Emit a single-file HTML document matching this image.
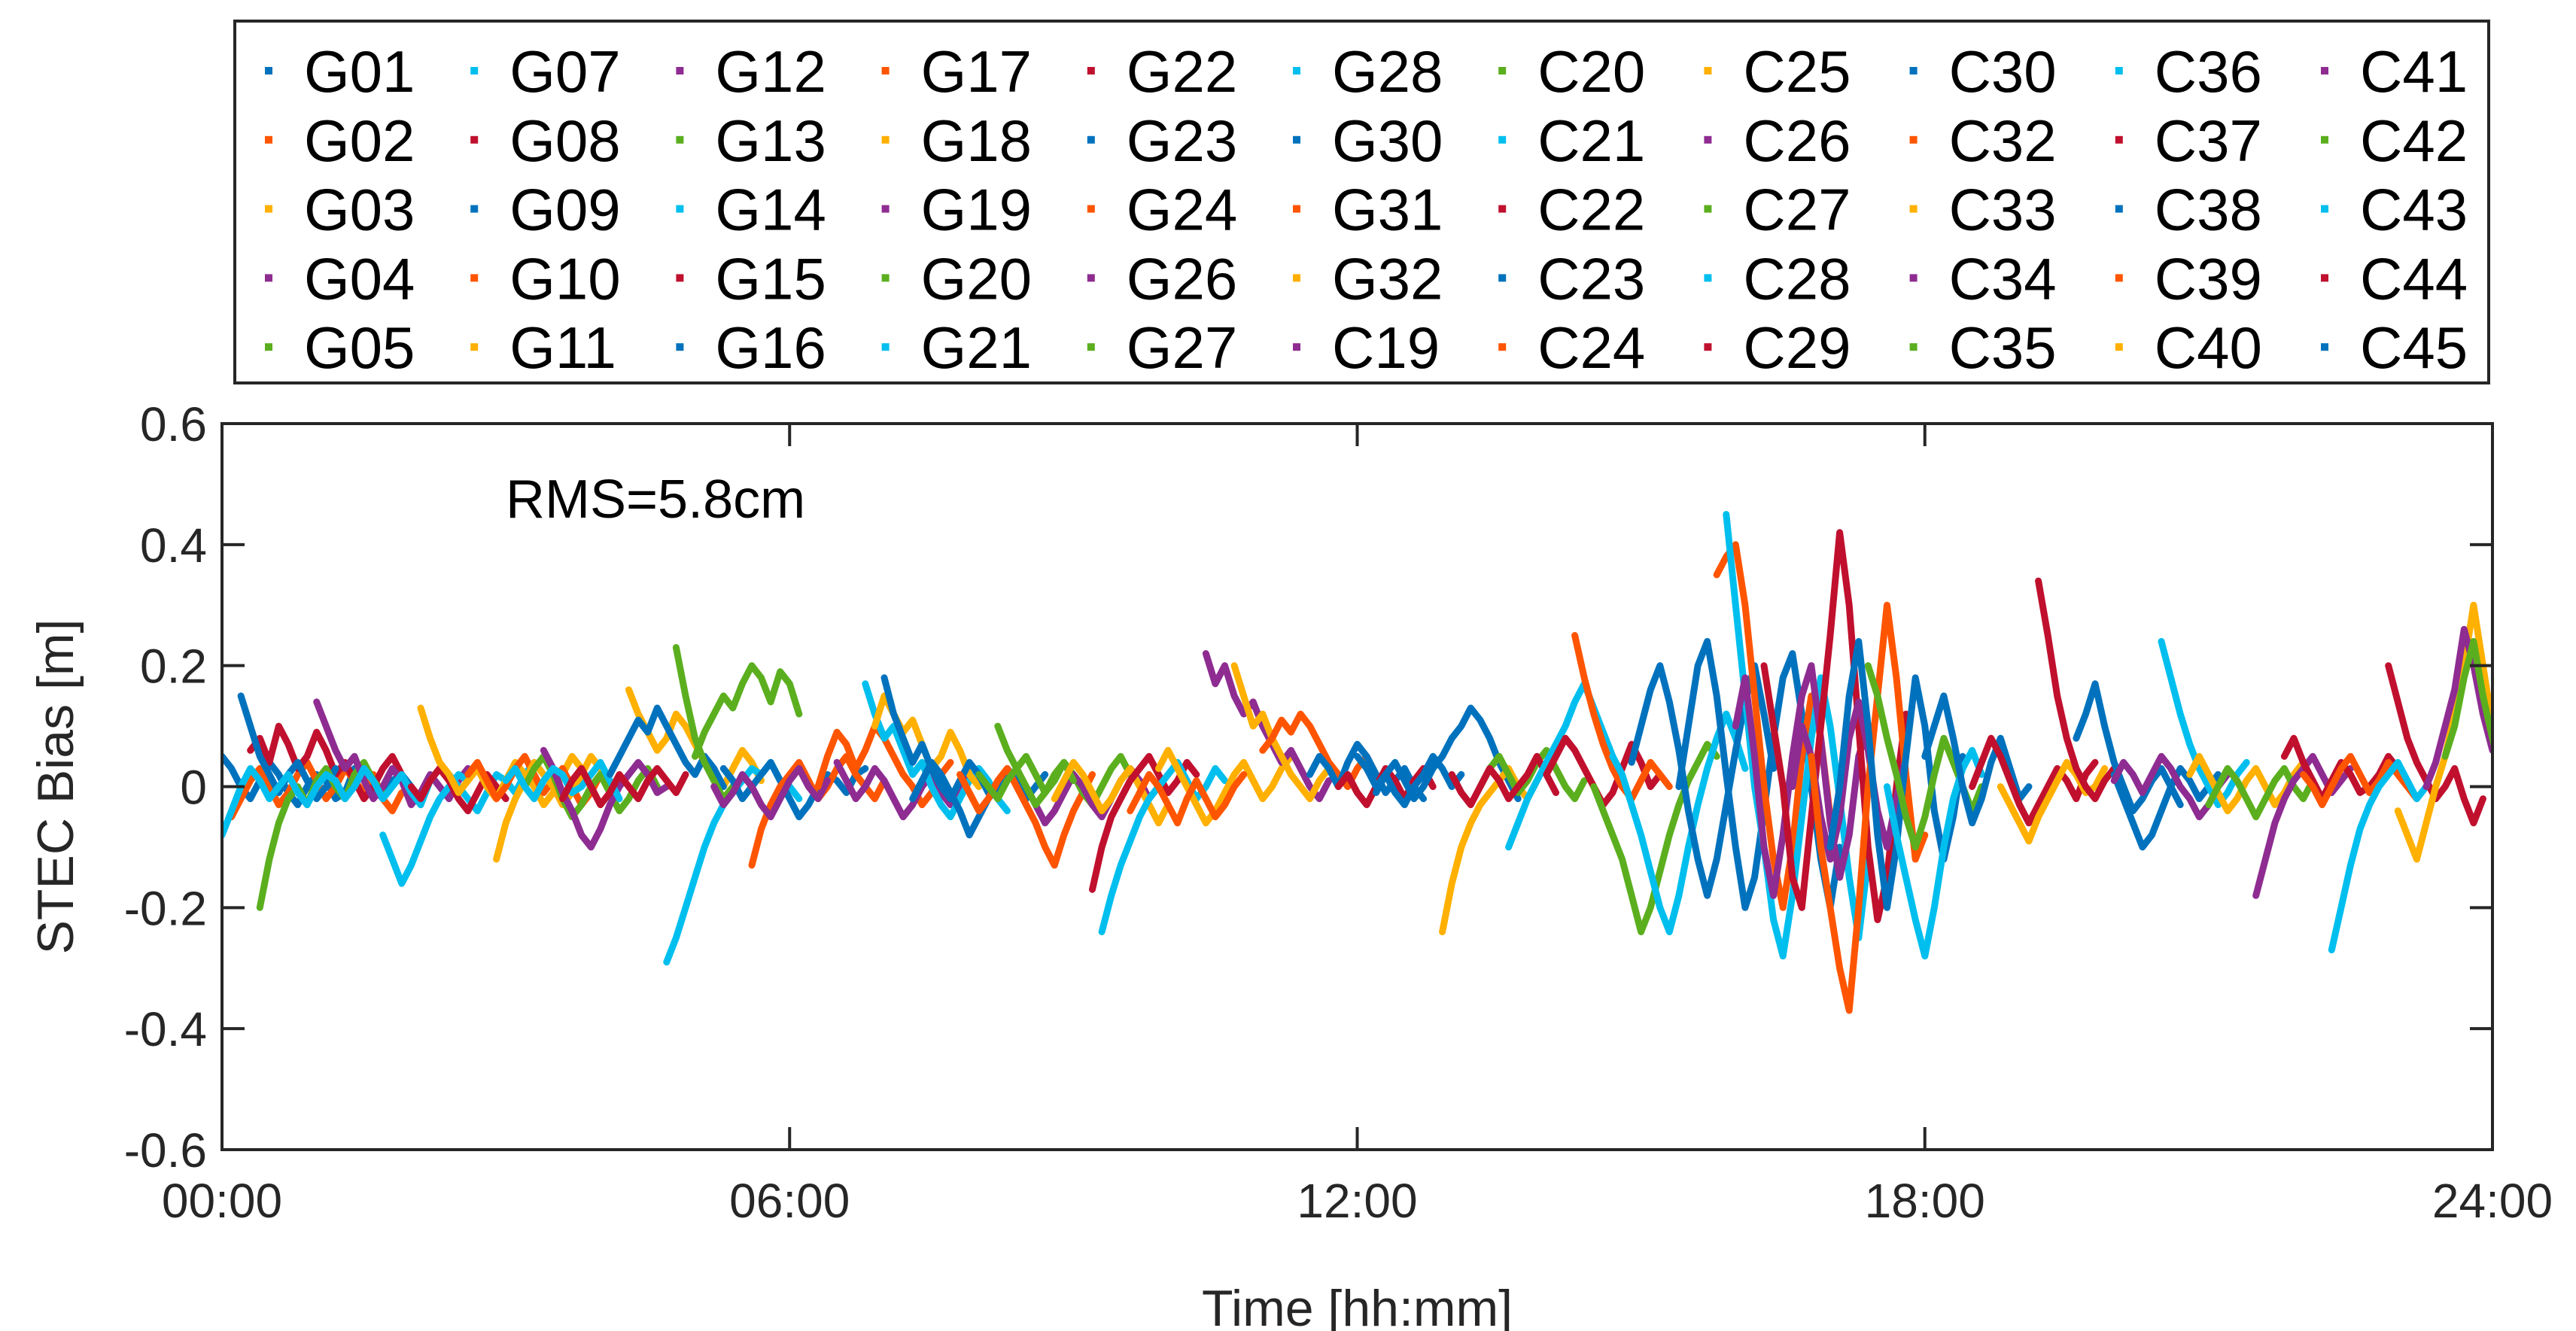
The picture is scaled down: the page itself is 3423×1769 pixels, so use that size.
<!DOCTYPE html>
<html><head><meta charset="utf-8">
<style>
html,body{margin:0;padding:0;background:#fff;}
svg{display:block;}
text{font-family:"Liberation Sans",Arial,sans-serif;}
</style></head>
<body>
<svg id="chart" width="3423" height="1769" viewBox="0 0 3423 1769" xmlns="http://www.w3.org/2000/svg">
  <rect x="0" y="0" width="3423" height="1769" fill="#fff"/>
  <g id="plot"></g>
  <g id="axes"></g>
  <text x="672" y="688" font-size="72" fill="#000">RMS=5.8cm</text>
  <g id="legend"></g>
</svg>
<script>
const legendNames = ["G01","G02","G03","G04","G05","G07","G08","G09","G10","G11","G12","G13","G14","G15","G16","G17","G18","G19","G20","G21","G22","G23","G24","G26","G27","G28","G30","G31","G32","C19","C20","C21","C22","C23","C24","C25","C26","C27","C28","C29","C30","C32","C33","C34","C35","C36","C37","C38","C39","C40","C41","C42","C43","C44","C45"];
const legendColorIdx = [0,1,2,3,4, 5,6,0,1,2, 3,4,5,6,0, 1,2,3,4,5, 6,0,1,3,4, 5,0,1,2,3, 4,5,6,0,1, 2,3,4,5,6, 0,1,2,3,4, 5,6,0,1,2, 3,4,5,6,0];
const xTicks = [0,6,12,18,24];
const xTickLabels = ["00:00","06:00","12:00","18:00","24:00"];
const yTicks = [-0.6,-0.4,-0.2,0,0.2,0.4,0.6];
const yTickLabels = ["-0.6","-0.4","-0.2","0","0.2","0.4","0.6"];
const stepHours = 0.1;
const segments = [
["G01",0.0,[0.05,0.03,0.00,-0.02,0.01,0.04,0.02,-0.01,-0.03,0.00,0.02,0.01,-0.02,-0.01,0.03,0.02,0.00,-0.02,0.01,0.02,0.0,-0.03]],
["G02",0.1,[-0.05,-0.02,0.01,0.03,0.00,-0.03,-0.01,0.02,0.04,0.01,-0.02,0.00,0.03,0.01,-0.01,0.02,-0.02,-0.04,-0.01]],
["G08",0.3,[0.06,0.08,0.04,0.10,0.07,0.03,0.05,0.09,0.06,0.02,0.04,0.01,-0.02,0.00,0.03,0.05,0.02]],
["G09",0.2,[0.15,0.1,0.05,0.02,-0.01,0.02,0.04,0.01,-0.02,0.0,0.03]],
["G05",0.4,[-0.20,-0.12,-0.06,-0.02,0.00,-0.03,0.01,0.03,0.00,-0.02,0.02,0.04,0.01,-0.01]],
["G04",1.0,[0.14,0.10,0.06,0.03,0.05,0.01,-0.02,0.00,0.03,0.01,-0.03,-0.01,0.02,0.00,-0.02,0.01,0.03]],
["G07",0.0,[-0.08,-0.04,0.0,0.03,0.01,-0.02,0.0,0.02,-0.01,-0.03,0.0,0.02,0.01,-0.02,0.0,0.03,0.01]],
["G07",1.5,[0.03,0.01,-0.02,0.00,0.02,-0.01,-0.03,0.01,0.03,0.02,0.00,-0.02,-0.04,-0.01,0.02,0.01,-0.01,0.02,0.04,0.02]],
["G14",1.7,[-0.08,-0.12,-0.16,-0.13,-0.09,-0.05,-0.02,0.00,0.02,0.01]],
["G22",2.0,[0.0,-0.02,0.01,0.03,0.01,-0.02,-0.04,-0.01,0.02,0.0,-0.02]],
["G03",2.1,[0.13,0.08,0.04,0.02,-0.01,0.01,0.03,0.00,-0.02,0.01,0.04,0.02,0.00,-0.03,-0.01,0.02,0.05,0.03]],
["G10",2.6,[0.02,0.04,0.01,-0.02,0.00,0.03,0.05,0.02,-0.01,0.01,0.03,0.00,-0.03,-0.01,0.02]],
["G11",2.9,[-0.12,-0.06,-0.02,0.01,0.04,0.02,0.00,-0.03,-0.01,0.02,0.05,0.03,0.00]],
["G13",3.2,[0.00,0.03,0.05,0.02,-0.02,-0.05,-0.03,0.00,0.02,-0.01,-0.04,-0.02,0.01,0.03,0.00]],
["G19",3.4,[0.06,0.03,-0.01,-0.04,-0.08,-0.10,-0.07,-0.03,0.00,0.02,0.04,0.02,-0.01,0.00]],
["G21",3.0,[0.01,0.03,0.0,-0.02,0.01,0.03,0.02,-0.01,0.0,0.02,0.04,0.01,-0.02]],
["G15",3.6,[-0.02,0.01,0.03,0.0,-0.03,-0.01,0.02,0.0,-0.02,0.01,0.03,0.01,-0.01,0.02]],
["G18",4.3,[0.16,0.12,0.09,0.06,0.08,0.12,0.1,0.07,0.04,0.02,0.0,0.03,0.06,0.04,0.01]],
["G09",4.1,[0.02,0.05,0.08,0.11,0.09,0.13,0.10,0.07,0.04,0.02,0.05,0.03,0.00]],
["G21",4.7,[-0.29,-0.25,-0.2,-0.15,-0.1,-0.06,-0.03,-0.01,0.01,0.03,0.02,0.04,0.01,0.00,-0.02]],
["G05",4.8,[0.23,0.15,0.08,0.04,0.01,-0.02,0.0]],
["G20",5.0,[0.05,0.09,0.12,0.15,0.13,0.17,0.2,0.18,0.14,0.19,0.17,0.12]],
["G23",5.3,[0.03,0.01,-0.02,0.00,0.02,0.04,0.01,-0.02,-0.05,-0.03,0.00,0.02,0.01,-0.01,0.02,0.03]],
["G17",5.6,[-0.13,-0.07,-0.03,0.0,0.02,0.04,0.01,-0.02,0.0,0.03,0.05,0.02,0.0,-0.02,0.01]],
["G12",5.2,[0.0,-0.03,-0.01,0.02,0.0,-0.03,-0.05,-0.02,0.01,0.03,0.0,-0.02,0.01]],
["G24",6.3,[0.0,0.05,0.09,0.07,0.03,0.06,0.1,0.08,0.05,0.02,0.0,-0.03,-0.01,0.02,0.04]],
["G26",6.5,[0.04,0.01,-0.02,0.0,0.03,0.01,-0.02,-0.05,-0.03,0.0,0.02,-0.01,-0.03,0.0,0.02,0.01]],
["G28",6.8,[0.17,0.12,0.08,0.1,0.06,0.02,0.04,0.0,-0.03,-0.05,-0.02,0.01,0.03,0.01,-0.02,-0.04]],
["G32",6.9,[0.1,0.15,0.12,0.09,0.11,0.07,0.03,0.05,0.09,0.06,0.02,0.0]],
["G16",7.0,[0.18,0.12,0.08,0.04,0.07,0.03,0.0,-0.02,0.01,0.04,0.02,-0.01]],
["G30",7.3,[-0.02,0.01,0.04,0.02,-0.01,-0.04,-0.08,-0.05,-0.02,0.0,0.03,0.01,-0.02,0.0,0.02]],
["G31",7.8,[0.02,-0.01,-0.04,-0.02,0.01,0.03,0.0,-0.03,-0.06,-0.1,-0.13,-0.08,-0.04,-0.01,0.02]],
["G27",8.2,[0.1,0.06,0.03,0.05,0.02,-0.01,0.01,0.04,0.02,-0.01,-0.03,0.0,0.03,0.05,0.02]],
["C19",8.5,[0.0,-0.03,-0.06,-0.04,-0.01,0.02,0.0,-0.03,-0.05,-0.02,0.01,0.03,0.01,-0.02,0.0,0.02]],
["C20",8.0,[0.02,0.0,-0.02,0.01,0.03,0.0,-0.03,-0.01,0.02,0.04,0.01]],
["G03",8.8,[-0.02,0.01,0.04,0.02,-0.01,-0.04,-0.02,0.01,0.03,0.0,-0.03,-0.06,-0.03]],
["C22",9.2,[-0.17,-0.1,-0.05,-0.02,0.01,0.03,0.05,0.02,-0.01,0.01,0.04,0.02]],
["C21",9.3,[-0.24,-0.18,-0.13,-0.09,-0.05,-0.02,0.0,0.02,0.04,0.01,-0.02,0.0,0.03,0.01]],
["C25",9.9,[0.03,0.06,0.03,0.0,-0.03,-0.06,-0.04,-0.01,0.02,0.04,0.01,-0.02,0.0,0.03,0.05]],
["G02",9.6,[-0.04,-0.01,0.02,0.0,-0.03,-0.06,-0.02,0.01,-0.02,-0.05,-0.03,0.0,0.02]],
["C26",10.4,[0.22,0.17,0.2,0.15,0.12,0.14,0.1,0.07,0.04,0.06,0.03,0.0,-0.02,0.01]],
["C33",10.7,[0.2,0.15,0.1,0.12,0.08,0.05,0.02,0.0,-0.02,0.01,0.03]],
["C24",11.0,[0.06,0.08,0.11,0.09,0.12,0.1,0.07,0.04,0.02,0.0,0.03,0.05,0.02]],
["C30",11.5,[0.02,0.05,0.03,0.0,0.04,0.07,0.05,0.02,-0.01,0.01,0.03,0.0,-0.02]],
["G15",11.8,[0.0,0.02,-0.01,-0.03,0.0,0.03,0.01,-0.02,0.01,0.03,0.0]],
["G16",12.0,[0.05,0.03,0.0,0.02,-0.01,-0.03,0.0,0.02,0.05,0.03,0.0,0.02]],
["C23",12.2,[-0.01,0.02,0.04,0.01,-0.02,0.0,0.03,0.05,0.08,0.1,0.13,0.11,0.08,0.04,0.01,-0.02]],
["C40",12.9,[-0.24,-0.16,-0.1,-0.06,-0.03,-0.01,0.01,0.03,0.0,-0.02,0.01]],
["C27",13.3,[0.0,0.03,0.05,0.02,-0.01,0.01,0.04,0.06,0.03,0.0,-0.02,0.01]],
["C37",13.0,[0.02,-0.01,-0.03,0.0,0.03,0.01,-0.02,0.0,0.02,0.05,0.02,-0.01]],
["C28",13.6,[-0.1,-0.06,-0.02,0.01,0.04,0.07,0.1,0.14,0.17,0.13,0.09,0.05]],
["C29",14.0,[0.02,0.05,0.08,0.06,0.03,0.0,-0.03,-0.01,0.03,0.07,0.04,0.0,0.02]],
["C32",14.3,[0.25,0.18,0.12,0.07,0.03,0.0,-0.02,0.01,0.04,0.02,0.0]],
["C35",14.5,[0.0,-0.04,-0.08,-0.12,-0.18,-0.24,-0.2,-0.14,-0.08,-0.03,0.01,0.04,0.07,0.05]],
["C36",14.7,[0.05,0.02,-0.03,-0.08,-0.14,-0.2,-0.24,-0.18,-0.1,-0.03,0.03,0.08,0.12,0.08,0.03]],
["C38",14.9,[0.04,0.1,0.16,0.2,0.14,0.06,-0.04,-0.12,-0.18,-0.12,-0.03,0.06,0.14,0.2,0.12,0.03]],
["C30",15.4,[0.0,0.1,0.2,0.24,0.15,0.02,-0.1,-0.2,-0.15,-0.04,0.08,0.18,0.22,0.12,0.0,-0.12,-0.2,-0.1]],
["C39",15.8,[0.35,0.38,0.4,0.3,0.15,0.0,-0.12,-0.2,-0.1,0.05,0.15,0.08,-0.05]],
["C43",15.9,[0.45,0.3,0.15,0.0,-0.1,-0.22,-0.28,-0.18,-0.05,0.08,0.18,0.1,-0.02,-0.15,-0.25,-0.12]],
["C34",16.0,[0.1,0.18,0.05,-0.1,-0.18,-0.08,0.05,0.15,0.2,0.08,-0.06,-0.15,-0.08,0.05,0.1]],
["C37",16.3,[0.2,0.1,0.0,-0.15,-0.2,-0.05,0.1,0.25,0.42,0.3,0.1,-0.1,-0.22,-0.15,0.0,0.12]],
["C41",16.6,[0.0,0.1,0.05,-0.05,-0.12,-0.05,0.08,0.14,0.06,-0.04,-0.1,-0.02,0.05]],
["C32",16.8,[0.05,-0.1,-0.2,-0.3,-0.37,-0.2,0.0,0.15,0.3,0.18,0.02,-0.12,-0.08]],
["C45",17.0,[-0.1,0.0,0.15,0.24,0.1,-0.08,-0.2,-0.1,0.05,0.18,0.1,-0.04,-0.12,-0.05,0.05]],
["C42",17.4,[0.2,0.15,0.08,0.02,-0.05,-0.1,-0.05,0.02,0.08,0.04,0.0,-0.04,0.0]],
["C21",17.6,[0.0,-0.08,-0.15,-0.22,-0.28,-0.2,-0.1,-0.02,0.03,0.06,0.02]],
["C23",18.0,[0.05,0.1,0.15,0.08,0.0,-0.06,-0.02,0.04,0.08,0.03,-0.02,0.0]],
["C44",18.5,[0.0,0.04,0.08,0.05,0.01,-0.03,-0.06,-0.03,0.0,0.03,0.01,-0.02,0.02,0.04]],
["C40",18.8,[0.0,-0.03,-0.06,-0.09,-0.05,-0.02,0.01,0.04,0.02,-0.01,0.0,0.03]],
["C29",19.2,[0.34,0.25,0.15,0.08,0.03,0.0,-0.02,0.01,0.03]],
["C45",19.6,[0.08,0.12,0.17,0.1,0.04,0.0,-0.04,-0.02,0.01,0.03,0.0,-0.03]],
["C38",20.0,[0.02,-0.02,-0.06,-0.1,-0.08,-0.04,0.0,0.03,0.01,-0.02,0.0,0.02]],
["C34",20.0,[0.01,0.04,0.02,-0.01,0.02,0.05,0.03,0.0,-0.02,-0.05,-0.03,0.0,0.02]],
["C28",20.5,[0.24,0.18,0.12,0.07,0.03,0.0,-0.03,-0.01,0.02,0.04]],
["C33",20.8,[0.02,0.05,0.02,-0.01,-0.04,-0.02,0.01,0.03,0.0,-0.03,-0.01,0.02,0.04]],
["C35",21.0,[-0.03,0.0,0.03,0.01,-0.02,-0.05,-0.02,0.01,0.03,0.0,-0.02,0.01]],
["C26",21.5,[-0.18,-0.12,-0.06,-0.02,0.01,0.03,0.05,0.02,-0.01,0.01,0.03]],
["C37",21.8,[0.05,0.08,0.04,0.01,-0.02,0.01,0.04,0.02,-0.01,0.0,0.02,0.05,0.03]],
["C39",22.0,[0.02,0.0,-0.03,0.0,0.03,0.05,0.02,-0.01,0.01,0.04,0.02,0.0,-0.02]],
["C43",22.3,[-0.27,-0.2,-0.13,-0.07,-0.03,0.0,0.02,0.04,0.01,-0.02,0.0]],
["C44",22.9,[0.2,0.14,0.08,0.04,0.01,-0.02,0.0,0.03,-0.02,-0.06,-0.02]],
["C40",23.0,[-0.04,-0.08,-0.12,-0.06,0.0,0.05,0.12,0.2,0.3,0.2,0.1,0.04,-0.02,-0.08,-0.15]],
["C41",23.3,[0.0,0.04,0.1,0.16,0.26,0.2,0.12,0.06,0.1]],
["C42",23.5,[0.05,0.1,0.18,0.24,0.15,0.08,0.02]]
];
const palette = ["#0072BD","#FF5500","#FFB000","#8E2C91","#5BAF1F","#00BFEE","#C0102E"];

const NS = "http://www.w3.org/2000/svg";
const X0 = 295, X1 = 3312, Y0 = 563, Y1 = 1528;
function xScale(h){ return X0 + (h/24)*(X1-X0); }
function yScale(v){ return Y1 - ((v+0.6)/1.2)*(Y1-Y0); }
function colorOf(n){ return palette[legendColorIdx[legendNames.indexOf(n)]]; }
function mk(tag, attrs, parent){ const e=document.createElementNS(NS,tag); for(const k in attrs) e.setAttribute(k,attrs[k]); parent.appendChild(e); return e; }

const plot = document.getElementById('plot');
const clip = mk('clipPath',{id:'clipA'},mk('defs',{},plot));
mk('rect',{x:X0,y:Y0,width:X1-X0,height:Y1-Y0},clip);
const pg = mk('g',{'clip-path':'url(#clipA)'},plot);
segments.forEach(function(s){
  const pts = s[2].map(function(v,i){ return xScale(s[1]+i*stepHours).toFixed(1)+","+yScale(v).toFixed(1); }).join(" ");
  const p = mk('polyline',{points:pts,fill:'none',stroke:colorOf(s[0]),'stroke-width':9,'stroke-linejoin':'round','stroke-linecap':'round'},pg);
  
  
});

const axes = document.getElementById('axes');
const box = mk('rect',{x:X0,y:Y0,width:X1-X0,height:Y1-Y0,fill:'none',stroke:'#262626','stroke-width':4},axes);


xTicks.forEach(function(t,i){
  const x = xScale(t);
  mk('line',{x1:x,y1:Y1,x2:x,y2:Y1-30,stroke:'#262626','stroke-width':4},axes);
  mk('line',{x1:x,y1:Y0,x2:x,y2:Y0+30,stroke:'#262626','stroke-width':4},axes);
  const tx = mk('text',{x:x,y:Y1+90,'font-size':64,'text-anchor':'middle',fill:'#262626'},axes);
  tx.textContent = xTickLabels[i];
  
  
});
yTicks.forEach(function(t,i){
  const y = yScale(t);
  mk('line',{x1:X0,y1:y,x2:X0+30,y2:y,stroke:'#262626','stroke-width':4},axes);
  mk('line',{x1:X1,y1:y,x2:X1-30,y2:y,stroke:'#262626','stroke-width':4},axes);
  const ty = mk('text',{x:X0-20,y:y+23,'font-size':64,'text-anchor':'end',fill:'#262626'},axes);
  ty.textContent = yTickLabels[i];
  
  
});
const xt = mk('text',{x:(X0+X1)/2,y:1762,'font-size':68,'text-anchor':'middle',fill:'#262626'},axes);
xt.textContent = 'Time [hh:mm]';


const yt = mk('text',{x:0,y:0,'font-size':68,'text-anchor':'middle',fill:'#262626',transform:'translate(97,'+((Y0+Y1)/2)+') rotate(-90)'},axes);
yt.textContent = 'STEC Bias [m]';



const lg = document.getElementById('legend');
const lb = mk('rect',{x:312,y:28,width:2995,height:481,fill:'#fff',stroke:'#262626','stroke-width':4},lg);


legendNames.forEach(function(n,i){
  const col = Math.floor(i/5), row = i%5;
  const tx0 = 404 + col*273.2, cy = 94 + row*91.8;
  const g = mk('g',{},lg);
  
  
  mk('rect',{x:tx0-52,y:cy-5,width:10,height:10,fill:colorOf(n)},g);
  const t = mk('text',{x:tx0,y:cy+28,'font-size':78,fill:'#000'},g);
  t.textContent = n;
});
</script>
</body></html>
